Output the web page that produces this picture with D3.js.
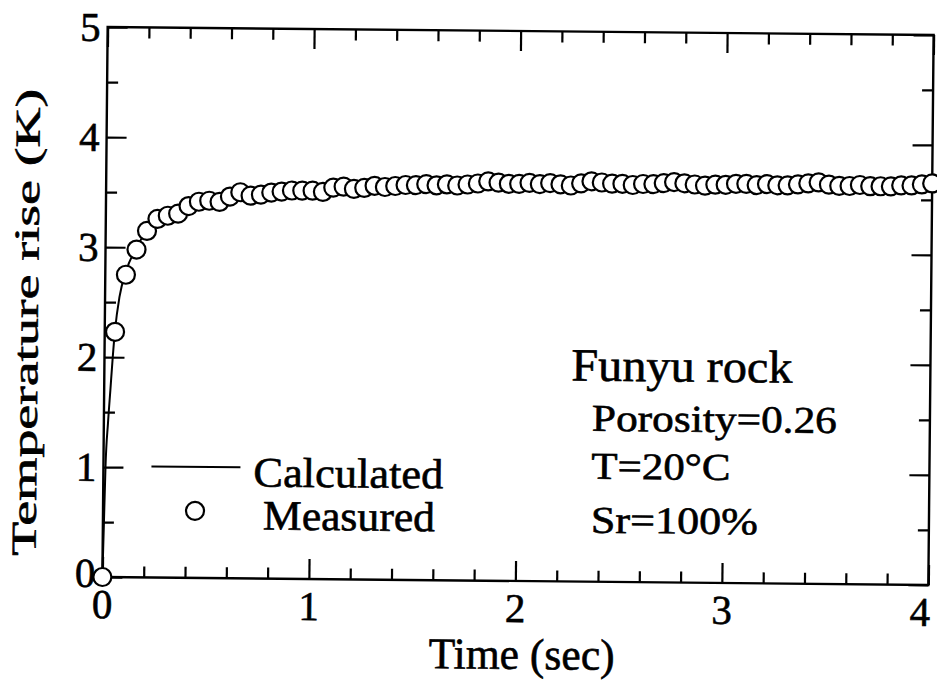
<!DOCTYPE html>
<html>
<head>
<meta charset="utf-8">
<script src="https://cdn.jsdelivr.net/npm/d3@7"></script>
<style>
  html, body { margin: 0; padding: 0; background: #fff; }
  svg { display: block; }
  text { font-family: "Liberation Serif", "Times New Roman", serif; fill: #000; stroke: #000; stroke-width: 0.6px; }
</style>
</head>
<body>
<div id="chart"></div>
<script>
// measured points, every 0.05 s
const measuredTime = [
  0.00, 0.05, 0.10, 0.15, 0.20, 0.25, 0.30, 0.35, 0.40, 0.45,
  0.50, 0.55, 0.60, 0.65, 0.70, 0.75, 0.80, 0.85, 0.90, 0.95,
  1.00, 1.05, 1.10, 1.15, 1.20, 1.25, 1.30, 1.35, 1.40, 1.45,
  1.50, 1.55, 1.60, 1.65, 1.70, 1.75, 1.80, 1.85, 1.90, 1.95,
  2.00, 2.05, 2.10, 2.15, 2.20, 2.25, 2.30, 2.35, 2.40, 2.45,
  2.50, 2.55, 2.60, 2.65, 2.70, 2.75, 2.80, 2.85, 2.90, 2.95,
  3.00, 3.05, 3.10, 3.15, 3.20, 3.25, 3.30, 3.35, 3.40, 3.45,
  3.50, 3.55, 3.60, 3.65, 3.70, 3.75, 3.80, 3.85, 3.90, 3.95,
  4.00
];
const measuredTemp = [
  0.00, 2.23, 2.75, 2.98, 3.15, 3.26, 3.29, 3.31, 3.38, 3.42,
  3.43, 3.42, 3.47, 3.51, 3.48, 3.49, 3.51, 3.52, 3.53, 3.53,
  3.53, 3.52, 3.56, 3.57, 3.55, 3.56, 3.58, 3.57, 3.58, 3.59,
  3.59, 3.60, 3.59, 3.60, 3.59, 3.60, 3.61, 3.63, 3.62, 3.61,
  3.61, 3.62, 3.61, 3.62, 3.61, 3.60, 3.62, 3.64, 3.63, 3.62,
  3.62, 3.61, 3.62, 3.62, 3.63, 3.64, 3.63, 3.62, 3.61, 3.62,
  3.62, 3.63, 3.63, 3.62, 3.63, 3.62, 3.62, 3.63, 3.64, 3.65,
  3.63, 3.62, 3.62, 3.63, 3.62, 3.62, 3.62, 3.63, 3.63, 3.64,
  3.65
];

// calculated curve
const calcTime = [0, 0.005, 0.01, 0.02, 0.03, 0.04, 0.05, 0.07, 0.1, 0.15, 0.2, 0.3, 0.4, 0.5, 0.7, 1.0, 1.5, 2.0, 2.5, 3.0, 3.5, 4.0];
const calcTemp = [0, 0.5, 1.0, 1.4, 1.7, 2.0, 2.25, 2.55, 2.78, 3.0, 3.15, 3.3, 3.4, 3.45, 3.5, 3.54, 3.58, 3.6, 3.62, 3.63, 3.64, 3.65];

const xTicks = [0, 1, 2, 3, 4];
const yTicks = [0, 1, 2, 3, 4, 5];
const xMinorTicks = [0.2, 0.4, 0.6, 0.8, 1.2, 1.4, 1.6, 1.8, 2.2, 2.4, 2.6, 2.8, 3.2, 3.4, 3.6, 3.8];
const yMinorTicks = [0.5, 1.5, 2.5, 3.5, 4.5];

const annotationLines = ["Funyu rock", "Porosity=0.26", "T=20°C", "Sr=100%"];
const legendLabels = ["Calculated", "Measured"];
const xTitle = "Time (sec)";
const yTitle = "Temperature rise (K)";

////////////////////////////////////////////////////////////////////////////////////

const W = 937, H = 682;
const plotLeft = 105, plotRight = 931, plotTop = 31, plotBottom = 581;
const MAJOR = 20, MINOR = 11;
const TILT = 0.55; // the scanned figure is slightly rotated

const svg = d3.select("#chart").append("svg").attr("width", W).attr("height", H);
const g = svg.append("g")
  .attr("transform", `rotate(${TILT},${(plotLeft + plotRight) / 2},${(plotTop + plotBottom) / 2})`);

const x = d3.scaleLinear().domain([0, 4]).range([plotLeft, plotRight]);
const y = d3.scaleLinear().domain([0, 5]).range([plotBottom, plotTop]);

// frame
g.append("rect")
  .attr("x", plotLeft).attr("y", plotTop)
  .attr("width", plotRight - plotLeft).attr("height", plotBottom - plotTop)
  .attr("fill", "none").attr("stroke", "#000").attr("stroke-width", 2.4);

// inward ticks on all four sides
function tickAxes(axisFn, scale, ticks, size, tx) {
  const a = axisFn(scale).tickValues(ticks).tickSize(size).tickFormat("");
  const sel = g.append("g").attr("transform", tx).call(a);
  sel.select(".domain").remove();
  sel.selectAll(".tick line").attr("stroke", "#000").attr("stroke-width", 2.2);
  return sel;
}
tickAxes(d3.axisTop, x, xTicks, MAJOR, `translate(0,${plotBottom})`);
tickAxes(d3.axisTop, x, xMinorTicks, MINOR, `translate(0,${plotBottom})`);
tickAxes(d3.axisBottom, x, xTicks, MAJOR, `translate(0,${plotTop})`);
tickAxes(d3.axisBottom, x, xMinorTicks, MINOR, `translate(0,${plotTop})`);
tickAxes(d3.axisRight, y, yTicks, MAJOR, `translate(${plotLeft},0)`);
tickAxes(d3.axisRight, y, yMinorTicks, MINOR, `translate(${plotLeft},0)`);
tickAxes(d3.axisLeft, y, yTicks, MAJOR, `translate(${plotRight},0)`);
tickAxes(d3.axisLeft, y, yMinorTicks, MINOR, `translate(${plotRight},0)`);

// tick labels (the last one is pulled in so it stays on the page)
g.append("g").selectAll("text").data(xTicks).enter().append("text")
  .attr("x", d => (d === 4 ? x(d) + 2 : x(d)))
  .attr("y", plotBottom + 41)
  .attr("text-anchor", d => (d === 4 ? "end" : "middle"))
  .style("font-size", "41px")
  .text(d => d);

g.append("g").selectAll("text").data(yTicks).enter().append("text")
  .attr("x", plotLeft - 7)
  .attr("y", d => y(d) + (d === 0 ? 10 : 14))
  .attr("text-anchor", "end")
  .style("font-size", "41px")
  .text(d => d);

// axis titles
g.append("text")
  .attr("x", 432).attr("y", plotBottom + 88)
  .attr("textLength", 186).attr("lengthAdjust", "spacingAndGlyphs")
  .style("font-size", "44px")
  .text(xTitle);

g.append("text")
  .attr("transform", "translate(38,327)rotate(-90)")
  .attr("text-anchor", "middle")
  .attr("textLength", 467).attr("lengthAdjust", "spacingAndGlyphs")
  .style("font-size", "35px")
  .text(yTitle);

////////////////////////////////////////////////////////////////////////////////////

const calc = calcTime.map((t, i) => ({ t: t, v: calcTemp[i] }));
const meas = measuredTime.map((t, i) => ({ t: t, v: measuredTemp[i] }));

g.append("path")
  .datum(calc)
  .attr("fill", "none")
  .attr("stroke", "#000")
  .attr("stroke-width", 2)
  .attr("d", d3.line().x(d => x(d.t)).y(d => y(d.v)).curve(d3.curveMonotoneX));

g.append("g").selectAll("circle").data(meas).enter().append("circle")
  .attr("cx", d => x(d.t))
  .attr("cy", d => y(d.v))
  .attr("r", 9)
  .attr("fill", "#fff")
  .attr("stroke", "#000")
  .attr("stroke-width", 2.2);

////////////////////////////////////////////////////////////////////////////////////

// legend
g.append("line")
  .attr("x1", 153).attr("x2", 242).attr("y1", 470).attr("y2", 470)
  .attr("stroke", "#000").attr("stroke-width", 2);
g.append("circle")
  .attr("cx", 197).attr("cy", 514).attr("r", 9)
  .attr("fill", "#fff").attr("stroke", "#000").attr("stroke-width", 2.2);
g.append("text").attr("x", 255).attr("y", 489)
  .attr("textLength", 190).attr("lengthAdjust", "spacingAndGlyphs")
  .style("font-size", "42px").text(legendLabels[0]);
g.append("text").attr("x", 265).attr("y", 532)
  .attr("textLength", 172).attr("lengthAdjust", "spacingAndGlyphs")
  .style("font-size", "42px").text(legendLabels[1]);

// sample notes
const notes = [
  { x: 572, y: 380, len: 221, size: 46 },
  { x: 593, y: 430, len: 245, size: 38 },
  { x: 593, y: 478, len: 139, size: 38 },
  { x: 593, y: 532, len: 167, size: 38 }
];
notes.forEach((n, i) => {
  g.append("text")
    .attr("x", n.x).attr("y", n.y)
    .attr("textLength", n.len).attr("lengthAdjust", "spacingAndGlyphs")
    .style("font-size", n.size + "px")
    .text(annotationLines[i]);
});
</script>
</body>
</html>
